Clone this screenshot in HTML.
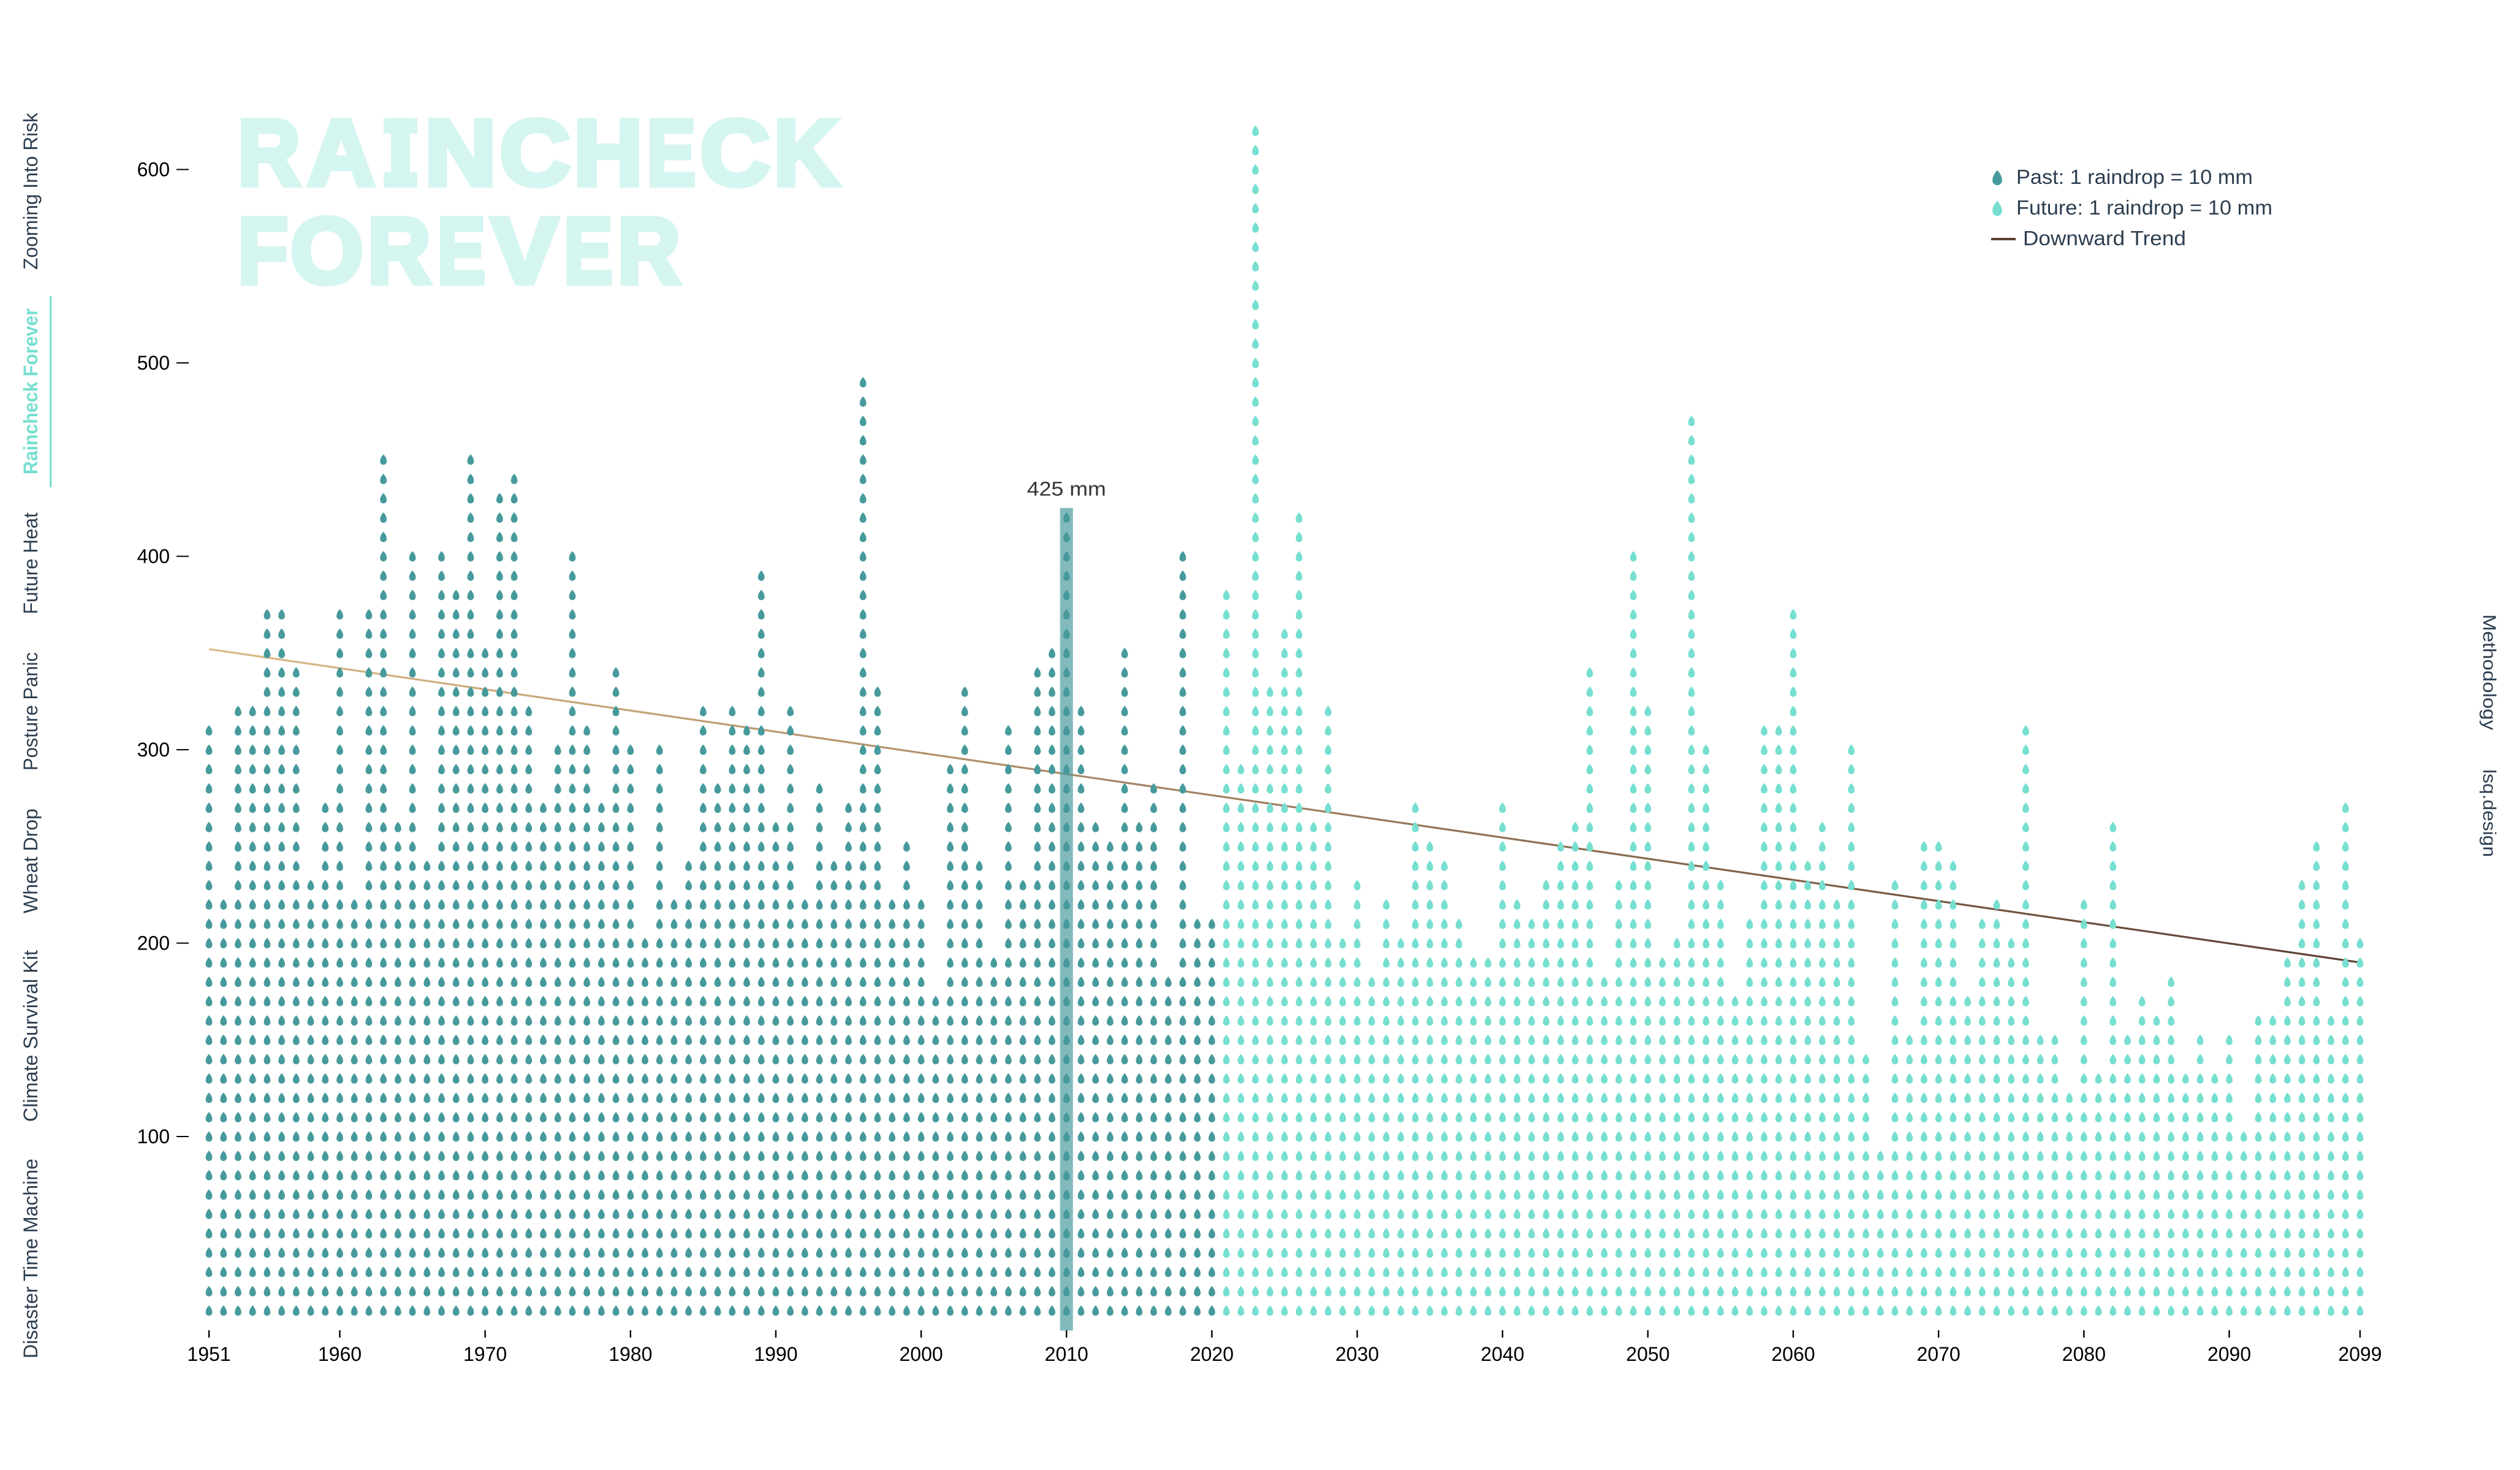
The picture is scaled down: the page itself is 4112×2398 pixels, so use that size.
<!DOCTYPE html>
<html lang="en">
<head>
<meta charset="utf-8">
<title>Raincheck Forever</title>
<style>
html,body{margin:0;padding:0;background:#fff;width:4112px;height:2398px;overflow:hidden}
svg{display:block;font-family:"Liberation Sans",sans-serif}
.nav{font-size:32px;fill:#2c3e50}
.leg{font-size:33px;fill:#2c3e50}
.tick{font-size:32px;fill:#000}
.title{font-size:152px;font-weight:700;fill:#d5f5f0;stroke:#d5f5f0;stroke-width:9px;font-kerning:none}
</style>
</head>
<body>
<svg id="chart" xmlns="http://www.w3.org/2000/svg" width="4112" height="2398" viewBox="0 0 4112 2398">
  <defs>
    <linearGradient id="trend-gradient" gradientUnits="userSpaceOnUse" x1="341" y1="0" x2="3851" y2="0">
      <stop offset="0" stop-color="#deba88"/>
      <stop offset="1" stop-color="#5c4033"/>
    </linearGradient>
  </defs>

  <text class="title" y="301.5"><tspan x="387.7" textLength="102.2" lengthAdjust="spacingAndGlyphs">R</tspan><tspan x="502" textLength="109.5" lengthAdjust="spacingAndGlyphs">A</tspan><tspan x="632.3" textLength="42.2" lengthAdjust="spacingAndGlyphs">I</tspan><tspan x="692.9" textLength="117" lengthAdjust="spacingAndGlyphs">N</tspan><tspan x="815.4" textLength="115" lengthAdjust="spacingAndGlyphs">C</tspan><tspan x="936.2" textLength="112.6" lengthAdjust="spacingAndGlyphs">H</tspan><tspan x="1055.5" textLength="79.5" lengthAdjust="spacingAndGlyphs">E</tspan><tspan x="1142.4" textLength="114" lengthAdjust="spacingAndGlyphs">C</tspan><tspan x="1262.5" textLength="106" lengthAdjust="spacingAndGlyphs">K</tspan></text>
  <rect x="626" y="193" width="55" height="25" fill="#d5f5f0"/>
  <rect x="626" y="281" width="55" height="25" fill="#d5f5f0"/>
  <text class="title" y="461.5"><tspan x="388" textLength="82" lengthAdjust="spacingAndGlyphs">F</tspan><tspan x="474.3" textLength="118.5" lengthAdjust="spacingAndGlyphs">O</tspan><tspan x="599.6" textLength="103.2" lengthAdjust="spacingAndGlyphs">R</tspan><tspan x="713.6" textLength="78.4" lengthAdjust="spacingAndGlyphs">E</tspan><tspan x="801.8" textLength="108.4" lengthAdjust="spacingAndGlyphs">V</tspan><tspan x="920" textLength="79.5" lengthAdjust="spacingAndGlyphs">E</tspan><tspan x="1007.7" textLength="102.2" lengthAdjust="spacingAndGlyphs">R</tspan></text>

  <g>
    <text class="nav" transform="translate(61,440) rotate(-90)" textLength="256" lengthAdjust="spacingAndGlyphs">Zooming Into Risk</text>
    <text class="nav" transform="translate(61,774) rotate(-90)" textLength="271" lengthAdjust="spacingAndGlyphs" style="fill:#76dfd0;font-weight:700">Raincheck Forever</text>
    <rect x="81" y="483" width="3" height="312" fill="#76dfd0"/>
    <text class="nav" transform="translate(61,1002) rotate(-90)" textLength="166" lengthAdjust="spacingAndGlyphs">Future Heat</text>
    <text class="nav" transform="translate(61,1257) rotate(-90)" textLength="193" lengthAdjust="spacingAndGlyphs">Posture Panic</text>
    <text class="nav" transform="translate(61,1490) rotate(-90)" textLength="171" lengthAdjust="spacingAndGlyphs">Wheat Drop</text>
    <text class="nav" transform="translate(61,1830) rotate(-90)" textLength="280" lengthAdjust="spacingAndGlyphs">Climate Survival Kit</text>
    <text class="nav" transform="translate(61,2216) rotate(-90)" textLength="326" lengthAdjust="spacingAndGlyphs">Disaster Time Machine</text>
  </g>

  <g>
    <text class="nav" transform="translate(4052,1002) rotate(90)" textLength="189" lengthAdjust="spacingAndGlyphs" style="font-size:30px">Methodology</text>
    <text class="nav" transform="translate(4052,1255) rotate(90)" textLength="143" lengthAdjust="spacingAndGlyphs" style="font-size:30px">lsq.design</text>
  </g>

  <g>
    <path transform="translate(3259,290) scale(1.45)" d="M0,-8.6C2.4,-5.8 5.4,-2.2 5.4,3A5.4,5.4 0 0 1 -5.4,3C-5.4,-2.2 -2.4,-5.8 0,-8.6Z" fill="#479a9c"/>
    <text class="leg" x="3290" y="300" textLength="386" lengthAdjust="spacingAndGlyphs">Past: 1 raindrop = 10 mm</text>
    <path transform="translate(3259,340) scale(1.45)" d="M0,-8.6C2.4,-5.8 5.4,-2.2 5.4,3A5.4,5.4 0 0 1 -5.4,3C-5.4,-2.2 -2.4,-5.8 0,-8.6Z" fill="#76dfd0"/>
    <text class="leg" x="3290" y="350" textLength="418" lengthAdjust="spacingAndGlyphs">Future: 1 raindrop = 10 mm</text>
    <rect x="3249" y="388" width="40" height="4" fill="#5c4033"/>
    <text class="leg" x="3301" y="400" textLength="266" lengthAdjust="spacingAndGlyphs">Downward Trend</text>
  </g>

  <g id="axes"></g>
  <g id="trend"></g>
  <g id="highlight"></g>
  <g id="drops"></g>
</svg>
<script>
const pastYears = [1951,1952,1953,1954,1955,1956,1957,1958,1959,1960,1961,1962,1963,1964,1965,1966,1967,1968,1969,1970,1971,1972,1973,1974,1975,1976,1977,1978,1979,1980,1981,1982,1983,1984,1985,1986,1987,1988,1989,1990,1991,1992,1993,1994,1995,1996,1997,1998,1999,2000,2001,2002,2003,2004,2005,2006,2007,2008,2009,2010,2011,2012,2013,2014,2015,2016,2017,2018,2019,2020];
const pastRainfall = [310,220,320,320,370,370,340,230,270,370,220,370,450,260,400,240,400,380,450,350,430,440,320,270,300,400,310,270,340,300,200,300,220,240,320,280,320,310,390,260,320,220,280,240,270,490,330,220,250,220,170,290,330,240,190,310,230,340,350,425,320,260,250,350,260,280,180,400,210,210];
const futureYears = [2021,2022,2023,2024,2025,2026,2027,2028,2029,2030,2031,2032,2033,2034,2035,2036,2037,2038,2039,2040,2041,2042,2043,2044,2045,2046,2047,2048,2049,2050,2051,2052,2053,2054,2055,2056,2057,2058,2059,2060,2061,2062,2063,2064,2065,2066,2067,2068,2069,2070,2071,2072,2073,2074,2075,2076,2077,2078,2079,2080,2081,2082,2083,2084,2085,2086,2087,2088,2089,2090,2091,2092,2093,2094,2095,2096,2097,2098,2099];
const futureRainfall = [380,290,620,330,360,420,260,320,200,230,180,220,200,270,250,240,210,190,190,270,220,210,230,250,260,340,180,230,400,320,190,200,470,300,230,170,210,310,310,370,240,260,220,300,140,90,230,150,250,250,240,170,210,220,200,310,150,150,120,220,130,260,150,170,160,180,130,150,130,150,100,160,160,190,230,250,160,270,200];
const xTickLabels = [1951,1960,1970,1980,1990,2000,2010,2020,2030,2040,2050,2060,2070,2080,2090,2099];
const yTickLabels = [100,200,300,400,500,600];
const trendYears = [1951,2099];
const trendValues = [352,190];
const highlightYears = [2010];
const highlightValues = [425];

const NS = 'http://www.w3.org/2000/svg';
const DROP_PATH = 'M0,-8.6C2.4,-5.8 5.4,-2.2 5.4,3A5.4,5.4 0 0 1 -5.4,3C-5.4,-2.2 -2.4,-5.8 0,-8.6Z';
const DROP_STEP = 10;
const PAST_COLOR = '#479a9c';
const FUTURE_COLOR = '#76dfd0';

function xScale(year) { return 341 + (year - 1951) * (3851 - 341) / (2099 - 1951); }
function yScale(value) { return 2169.5 - value * 3.155; }
function make(tag, attrs) {
  const el = document.createElementNS(NS, tag);
  for (const k in attrs) el.setAttribute(k, attrs[k]);
  return el;
}

const axes = document.getElementById('axes');
xTickLabels.forEach(function (label) {
  const x = xScale(label);
  const tick = make('line', { x1: x, x2: x, y1: 2170, y2: 2182, stroke: '#000', 'stroke-width': 2.4 });
  
  
  axes.appendChild(tick);
  const text = make('text', { x: x, y: 2220, 'text-anchor': 'middle', class: 'tick' });
  
  
  text.textContent = label;
  axes.appendChild(text);
});
yTickLabels.forEach(function (label) {
  const y = yScale(label);
  const tick = make('line', { x1: 288, x2: 308, y1: y, y2: y, stroke: '#000', 'stroke-width': 2 });
  
  
  axes.appendChild(tick);
  const text = make('text', { x: 277, y: y + 11, 'text-anchor': 'end', class: 'tick' });
  
  
  text.textContent = label;
  axes.appendChild(text);
});

const trendLayer = document.getElementById('trend');
const trendX1 = xScale(trendYears[0]);
const trendX2 = xScale(trendYears[1]);
const gradient = document.getElementById('trend-gradient');
gradient.setAttribute('x1', trendX1);
gradient.setAttribute('x2', trendX2);
const trendLine = make('line', {
  x1: trendX1, y1: yScale(trendValues[0]),
  x2: trendX2, y2: yScale(trendValues[1]),
  stroke: 'url(#trend-gradient)', 'stroke-width': 3.2
});


trendLayer.appendChild(trendLine);

const highlightLayer = document.getElementById('highlight');
highlightYears.forEach(function (year, i) {
  const value = highlightValues[i];
  const cx = xScale(year);
  const top = yScale(value);
  const bar = make('rect', { x: cx - 10.5, y: top, width: 21, height: yScale(0) - top + 1, fill: PAST_COLOR, 'fill-opacity': 0.68 });
  
  
  highlightLayer.appendChild(bar);
  const label = make('text', { x: cx, y: top - 20, 'text-anchor': 'middle', 'font-size': 32, fill: '#333', textLength: 129, lengthAdjust: 'spacingAndGlyphs' });
  
  
  label.textContent = value + ' mm';
  highlightLayer.appendChild(label);
});

const dropsLayer = document.getElementById('drops');
function drawSeries(years, values, color, seriesName) {
  years.forEach(function (year, i) {
    const group = make('g', { fill: color });
    
    
    const count = Math.floor(values[i] / DROP_STEP);
    const x = xScale(year);
    for (let n = 1; n <= count; n++) {
      const drop = make('path', { d: DROP_PATH, transform: 'translate(' + x.toFixed(2) + ',' + yScale(n * DROP_STEP).toFixed(2) + ')' });
      
      
      group.appendChild(drop);
    }
    dropsLayer.appendChild(group);
  });
}
drawSeries(pastYears, pastRainfall, PAST_COLOR, 'past');
drawSeries(futureYears, futureRainfall, FUTURE_COLOR, 'future');
</script>
</body>
</html>
